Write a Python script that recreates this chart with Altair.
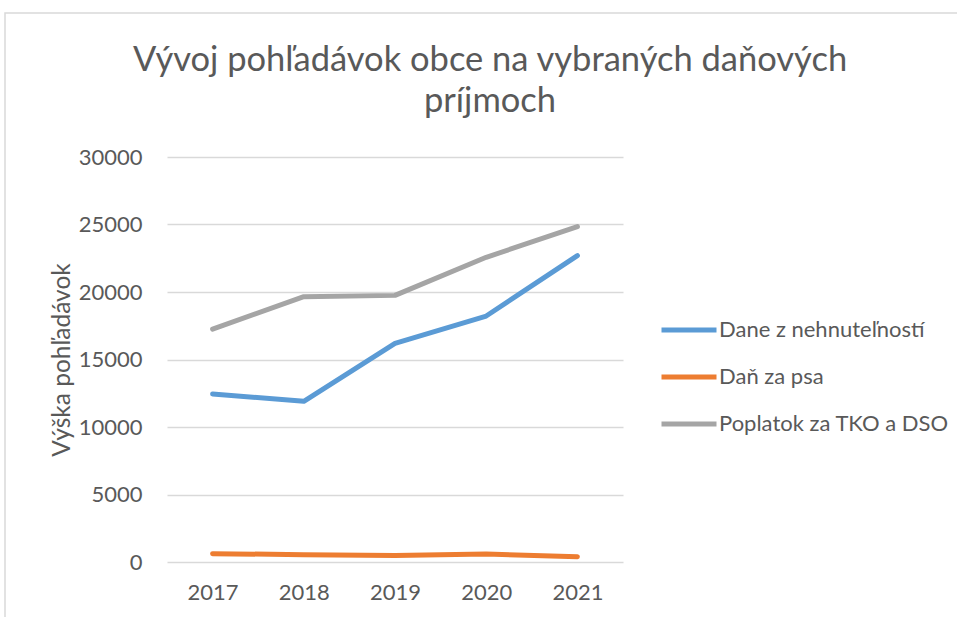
import altair as alt
import pandas as pd

years = ["2017", "2018", "2019", "2020", "2021"]
dane_nehnutelnosti = [12450, 11900, 16200, 18220, 22700]
dan_za_psa = [620, 540, 490, 590, 390]
poplatok_tko = [17250, 19650, 19750, 22570, 24840]
series_names = ["Dane z nehnuteľností", "Daň za psa", "Poplatok za TKO a DSO"]
series_colors = ["#5B9BD5", "#ED7D31", "#A5A5A5"]
y_ticks = [0, 5000, 10000, 15000, 20000, 25000, 30000]

rows = []
for name, vals in zip(series_names, [dane_nehnutelnosti, dan_za_psa, poplatok_tko]):
    for yr, v in zip(years, vals):
        rows.append({"rok": yr, "hodnota": v, "seria": name})
df = pd.DataFrame(rows)

FONT = "Lato"
TXT = "#595959"
PL, PT, W, H = 167, 157, 456, 405

lines = alt.Chart(df).mark_line(strokeWidth=5, strokeCap="round", strokeJoin="round").encode(
    x=alt.X("rok:O", title=None, sort=years,
            axis=alt.Axis(labelAngle=0, ticks=False, domain=False, labelPadding=20,
                          labelFontSize=22, labelColor=TXT, labelFont=FONT)),
    y=alt.Y("hodnota:Q", title="Výška pohľadávok",
            scale=alt.Scale(domain=[0, 30000], nice=False),
            axis=alt.Axis(values=y_ticks, format="d", ticks=False, domain=False, labelPadding=25,
                          labelFontSize=22, labelColor=TXT, labelFont=FONT,
                          gridColor="#D9D9D9", gridWidth=1.5,
                          titleFontSize=24.5, titleFont=FONT, titleColor=TXT, titleFontWeight="normal",
                          titleX=-105, titleY=H / 2, titleAngle=-90, titleBaseline="middle",
                          titleAlign="center")),
    color=alt.Color("seria:N", sort=series_names,
                    scale=alt.Scale(domain=series_names, range=series_colors),
                    legend=alt.Legend(title=None, orient="none", legendX=492, legendY=143,
                                      symbolType="stroke", symbolSize=3025, symbolStrokeWidth=5,
                                      labelFontSize=22, labelFont=FONT, labelColor=TXT,
                                      labelLimit=0, labelOffset=0, rowPadding=6)),
)

border = alt.Chart(pd.DataFrame({"a": [0]})).mark_rect(
    fill="transparent", stroke="#D9D9D9", strokeWidth=1.5
).encode(
    x=alt.value(5 - PL), x2=alt.value(957 - PL + 20),
    y=alt.value(13 - PT), y2=alt.value(617 - PT + 20),
)

chart = alt.layer(border, lines).properties(
    width=W, height=H,
    background="white",
    autosize=alt.AutoSizeParams(type="none"),
    padding={"left": PL, "top": PT, "right": 957 - PL - W, "bottom": 617 - PT - H},
    title=alt.TitleParams(
        text=["Vývoj pohľadávok obce na vybraných daňových", "príjmoch"],
        fontSize=34.5, font=FONT, color=TXT, fontWeight="normal",
        anchor="middle", dx=95, dy=107, lineHeight=41, offset=0,
    ),
).configure_view(stroke=None, strokeWidth=0)

chart.save("out.html", embed_options={"renderer": "svg", "actions": False})
